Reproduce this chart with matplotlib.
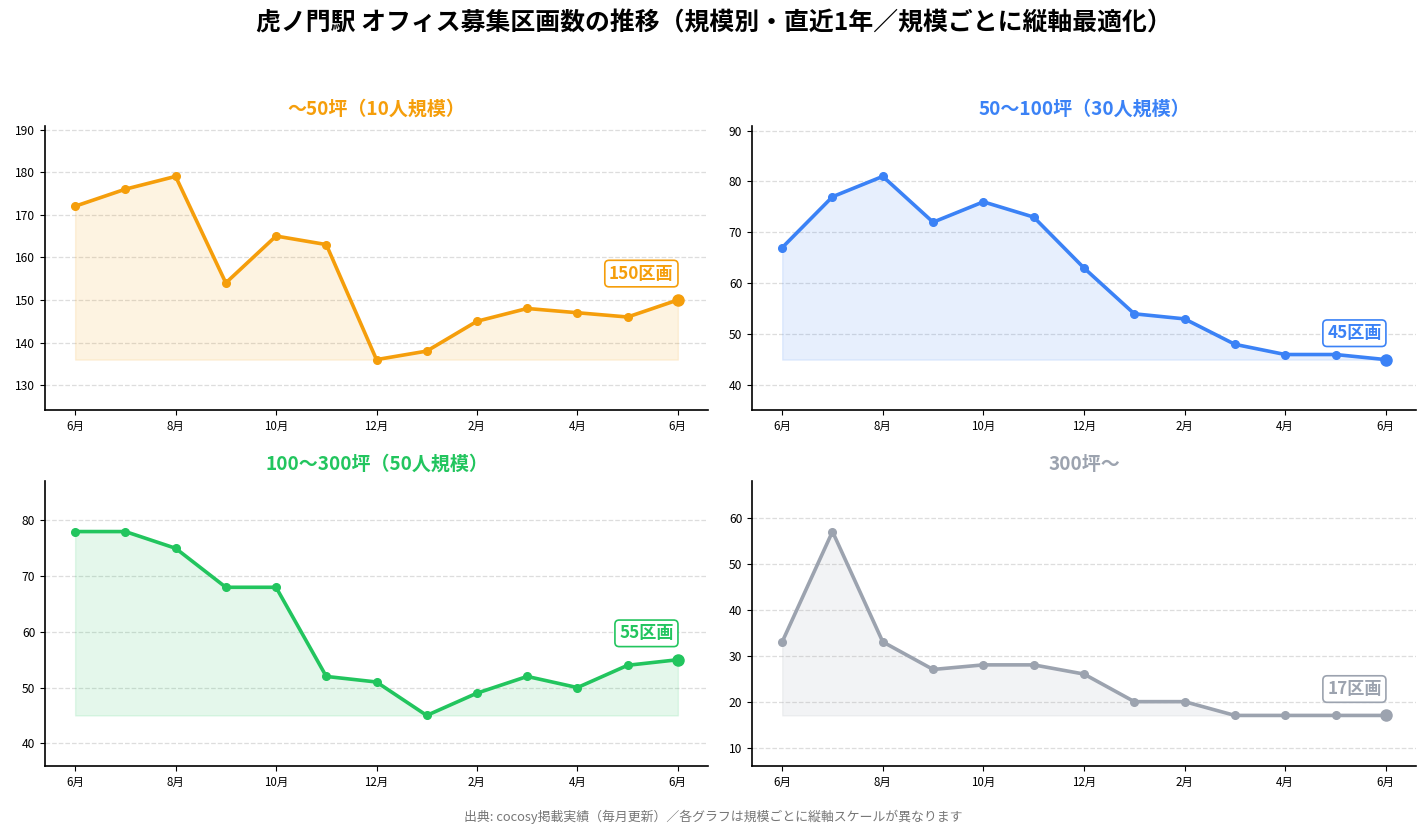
import matplotlib
matplotlib.use("Agg")
import matplotlib.pyplot as plt
import numpy as np

plt.rcParams['font.family'] = ['Noto Sans CJK JP', 'DejaVu Sans']

months = ["6月", "7月", "8月", "9月", "10月", "11月", "12月", "1月", "2月", "3月", "4月", "5月", "6月"]

titles = ["～50坪（10人規模）", "50～100坪（30人規模）", "100～300坪（50人規模）", "300坪～"]
colors = ["#F59E0B", "#3B82F6", "#22C55E", "#9CA3AF"]

s_50 = [172, 176, 179, 154, 165, 163, 136, 138, 145, 148, 147, 146, 150]
s_100 = [67, 77, 81, 72, 76, 73, 63, 54, 53, 48, 46, 46, 45]
s_300 = [78, 78, 75, 68, 68, 52, 51, 45, 49, 52, 50, 54, 55]
s_over = [33, 57, 33, 27, 28, 28, 26, 20, 20, 17, 17, 17, 17]
series = [s_50, s_100, s_300, s_over]

suptitle = "虎ノ門駅 オフィス募集区画数の推移（規模別・直近1年／規模ごとに縦軸最適化）"
footer = "出典: cocosy掲載実績（毎月更新）／各グラフは規模ごとに縦軸スケールが異なります"

fig = plt.figure(figsize=(14.27, 8.36), dpi=100)
positions = [
    [45/1427, 1-410/836, 663/1427, 284/836],
    [752/1427, 1-410/836, 664/1427, 284/836],
    [45/1427, 1-766/836, 663/1427, 285/836],
    [752/1427, 1-766/836, 664/1427, 285/836],
]

x = np.arange(len(months))
for pos, title, color, vals in zip(positions, titles, colors, series):
    ax = fig.add_axes(pos)
    vals = np.array(vals)
    vmin, vmax = vals.min(), vals.max()
    rng = vmax - vmin
    pad = rng * 0.275
    ax.set_ylim(vmin - pad, vmax + pad)
    ax.set_xlim(-0.6, len(months) - 1 + 0.6)
    ax.fill_between(x, vals, vmin, color=color, alpha=0.12, linewidth=1)
    ax.plot(x, vals, color=color, linewidth=2.6, marker='o', markersize=5.5, zorder=3)
    ax.plot(x[-1], vals[-1], 'o', color=color, markersize=8, zorder=4)
    ax.annotate(f"{vals[-1]}区画", xy=(x[-1], vals[-1]), xytext=(-3, 19),
                textcoords='offset points', ha='right', va='center',
                fontsize=12.3, fontweight='bold', color=color,
                bbox=dict(boxstyle='round,pad=0.25', fc='white', ec=color, lw=1.2))
    ax.set_title(title, color=color, fontsize=13.7, fontweight='bold', pad=8)
    ax.set_xticks(x[::2])
    ax.set_xticklabels(months[::2], fontsize=8.3)
    ax.tick_params(axis='y', labelsize=8.7)
    ax.grid(axis='y', linestyle='--', color='#dddddd', linewidth=0.9)
    ax.set_axisbelow(True)
    for s in ['top', 'right']:
        ax.spines[s].set_visible(False)
    for s in ['left', 'bottom']:
        ax.spines[s].set_linewidth(1.2)

fig.text(0.5, 1 - 23/836, suptitle, ha='center', va='center', fontsize=17.9, fontweight='bold')
fig.text(0.5, 1 - 817/836, footer, ha='center', va='center', fontsize=9.3, color='#777777')

fig.savefig("out.png", dpi=100)
